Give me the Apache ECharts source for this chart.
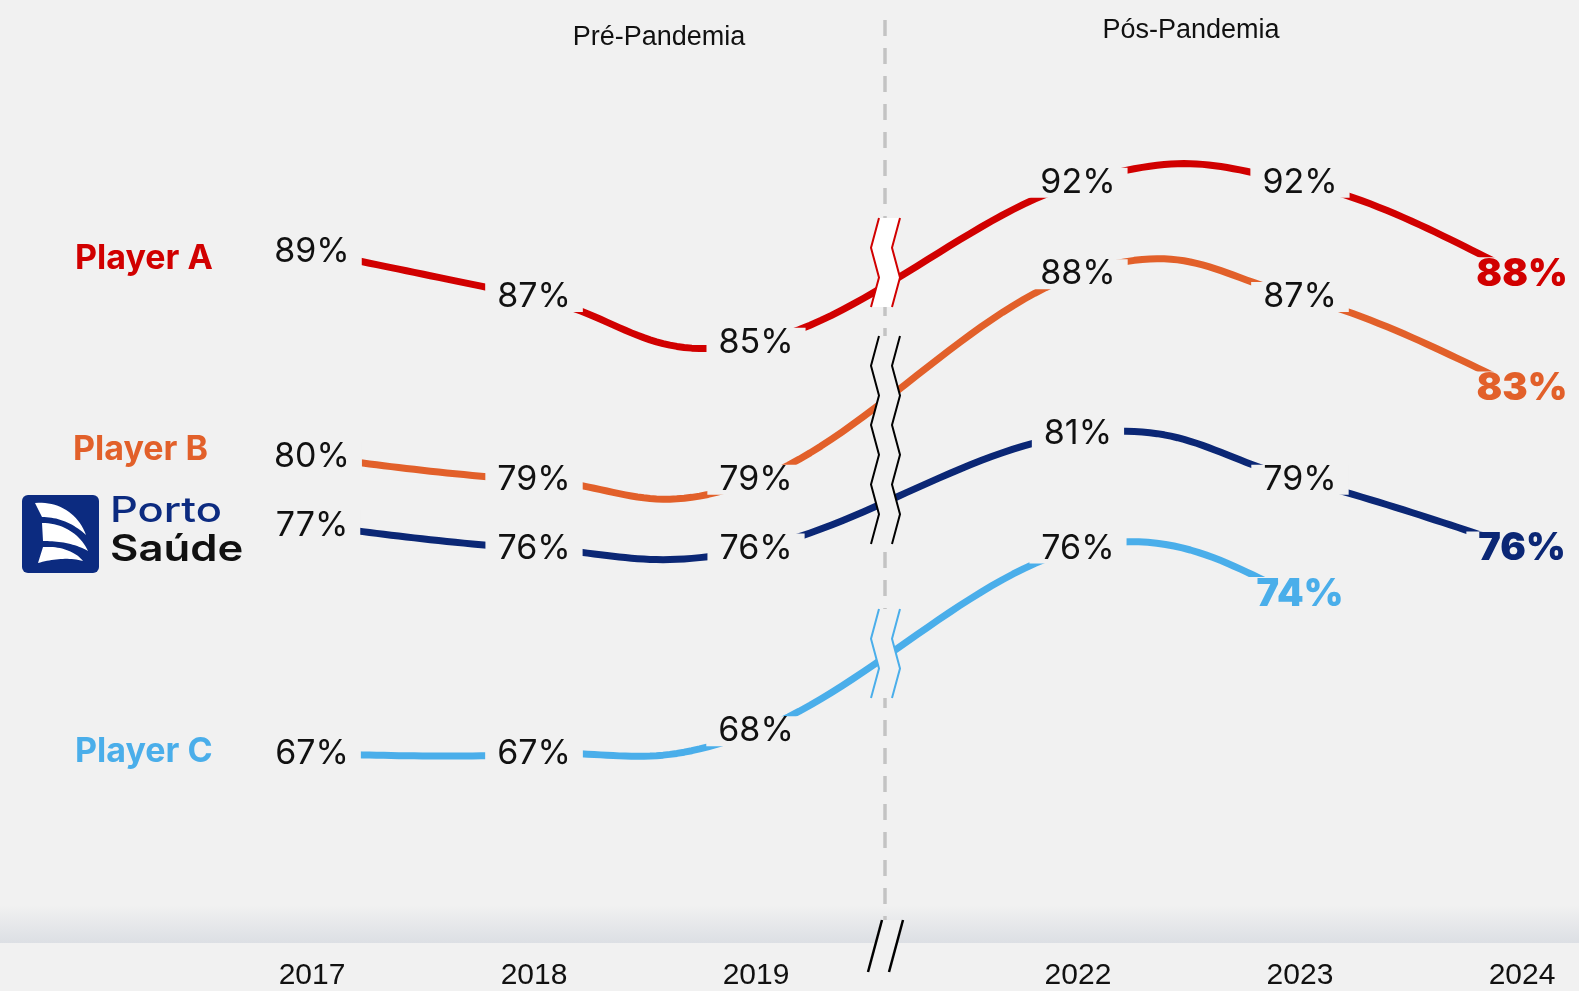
<!DOCTYPE html>
<html>
<head>
<meta charset="utf-8">
<script src="https://cdn.jsdelivr.net/npm/echarts@6/dist/echarts.min.js"></script>
<style>
  html, body { margin: 0; padding: 0; background: #f1f1f1; }
  #chart { width: 1579px; height: 991px; }
</style>
</head>
<body>
<div id="chart"></div>
<script>
// Satisfaction by year, before and after the pandemic break
const years = ['2017', '2018', '2019', '2022', '2023', '2024'];
const playerA = [89, 87, 85, 92, 92, 88];
const playerB = [80, 79, 79, 88, 87, 83];
const portoSaude = [77, 76, 76, 81, 79, 76];
const playerC = [67, 67, 68, 76, 74, null];

const seriesNames = ['Player A', 'Player B', 'Porto Saúde', 'Player C'];
const sectionTitles = ['Pré-Pandemia', 'Pós-Pandemia'];

// layout / style
const BG = '#f1f1f1';
const COLORS = { A: '#d10000', B: '#e2602a', N: '#0b2775', C: '#4aaeea' };
const BREAK_GAP = 0.45;          // extra room on the axis for the 2020–2021 break
const TENSION = 0.2;             // curve tension of the drawn lines
const slots = years.map((y, i) => (i < 3 ? i : i + BREAK_GAP));

function pairs(values) {
  const out = [];
  values.forEach((v, i) => { if (v != null) out.push([slots[i], v]); });
  return out;
}

function cubicPoint(p0, p1, p2, p3, t) {
  const u = 1 - t;
  const a = u * u * u, b = 3 * u * u * t, c = 3 * u * t * t, d = t * t * t;
  return [a * p0[0] + b * p1[0] + c * p2[0] + d * p3[0],
          a * p0[1] + b * p1[1] + c * p2[1] + d * p3[1]];
}

// cardinal spline through pixel points, sampled as a polyline
function spline(pts) {
  const out = [pts[0]];
  for (let i = 0; i < pts.length - 1; i++) {
    const p0 = pts[Math.max(i - 1, 0)], p1 = pts[i], p2 = pts[i + 1], p3 = pts[Math.min(i + 2, pts.length - 1)];
    const c1 = [p1[0] + (p2[0] - p0[0]) * TENSION, p1[1] + (p2[1] - p0[1]) * TENSION];
    const c2 = [p2[0] - (p3[0] - p1[0]) * TENSION, p2[1] - (p3[1] - p1[1]) * TENSION];
    for (let s = 1; s <= 30; s++) out.push(cubicPoint(p1, c1, c2, p2, s / 30));
  }
  return out;
}

function curveSeries(name, values, color) {
  const data = pairs(values);
  return {
    type: 'custom',
    name: name,
    coordinateSystem: 'cartesian2d',
    z: 1,
    silent: true,
    clip: false,
    encode: { x: 0, y: 1 },
    data: data,
    renderItem: (params, api) => {
      if (params.dataIndex !== 0) return null;
      const pts = data.map(d => api.coord(d));
      return {
        type: 'polyline',
        silent: true,
        shape: { points: spline(pts) },
        style: { stroke: color, lineWidth: 7, fill: 'none', lineJoin: 'round' }
      };
    }
  };
}

function labelSeries(name, values, color) {
  const data = [];
  let last = -1;
  values.forEach((v, i) => { if (v != null) last = i; });
  values.forEach((v, i) => {
    if (v == null) return;
    const item = { value: [slots[i], v] };
    if (i === last) {
      item.label = { color: color, fontWeight: 900, fontSize: 38, lineHeight: 34 };
    }
    data.push(item);
  });
  return {
    type: 'line',
    name: name,
    z: 2,
    clip: false,
    silent: true,
    symbol: 'circle',
    symbolSize: 1,
    itemStyle: { color: 'rgba(0,0,0,0)' },
    lineStyle: { opacity: 0, width: 0 },
    emphasis: { disabled: true },
    label: {
      show: true,
      position: 'inside',
      formatter: p => p.value[1] + '%',
      color: '#111',
      fontFamily: 'Inter',
      fontSize: 34,
      lineHeight: 30,
      backgroundColor: BG,
      padding: [0, 12]
    },
    data: data
  };
}

const chart = echarts.init(document.getElementById('chart'), null, { renderer: 'canvas' });

chart.setOption({
  backgroundColor: BG,
  animation: false,
  grid: { left: 312, right: 57, top: -1, bottom: 75 },
  xAxis: {
    type: 'value',
    min: 0,
    max: slots[slots.length - 1],
    axisLine: { show: false },
    axisTick: { show: false },
    splitLine: { show: false },
    axisLabel: {
      customValues: slots,
      formatter: v => {
        const i = slots.findIndex(s => Math.abs(s - v) < 1e-6);
        return i >= 0 ? years[i] : '';
      },
      margin: 47,
      color: '#111',
      fontFamily: 'Liberation Sans',
      fontSize: 30
    }
  },
  yAxis: { type: 'value', min: 60, max: 100, show: false, splitLine: { show: false } },
  series: [
    curveSeries(seriesNames[0], playerA, COLORS.A),
    curveSeries(seriesNames[1], playerB, COLORS.B),
    curveSeries(seriesNames[2], portoSaude, COLORS.N),
    curveSeries(seriesNames[3], playerC, COLORS.C),
    labelSeries(seriesNames[0], playerA, COLORS.A),
    labelSeries(seriesNames[1], playerB, COLORS.B),
    labelSeries(seriesNames[2], portoSaude, COLORS.N),
    labelSeries(seriesNames[3], playerC, COLORS.C)
  ]
});

// break position between 2019 and 2022
const x2019 = chart.convertToPixel({ xAxisIndex: 0 }, slots[2]);
const x2022 = chart.convertToPixel({ xAxisIndex: 0 }, slots[3]);
const bx = Math.round(x2019 + 0.4 * (x2022 - x2019));

// zig-zag break marks drawn across the lines
function zigzag(top, segments, color, fill) {
  const step = 29.7;
  const left = [], right = [];
  for (let k = 0; k <= segments; k++) {
    const y = top + k * step;
    left.push([bx + (k % 2 === 0 ? -6 : -14), y]);
    right.push([bx + (k % 2 === 0 ? 15 : 7), y]);
  }
  const poly = left.concat(right.slice().reverse());
  return [
    { type: 'polygon', z: 100, silent: true, shape: { points: poly }, style: { fill: fill } },
    { type: 'polyline', z: 101, silent: true, shape: { points: left }, style: { stroke: color, lineWidth: 2, fill: 'none' } },
    { type: 'polyline', z: 101, silent: true, shape: { points: right }, style: { stroke: color, lineWidth: 2, fill: 'none' } }
  ];
}

// sail shapes of the logo: start point, then two cubic segments (to the tip and back)
function sail(start, c1, c2, tip, c3, c4, end) {
  const pts = [start];
  for (let s = 1; s <= 20; s++) pts.push(cubicPoint(start, c1, c2, tip, s / 20));
  for (let s = 1; s <= 20; s++) pts.push(cubicPoint(tip, c3, c4, end, s / 20));
  return { type: 'polygon', shape: { points: pts }, style: { fill: '#ffffff' } };
}

const NAVY_LOGO = '#0c2b80';

const graphics = [
  // soft band above the year labels
  {
    type: 'rect', z: 0, silent: true,
    shape: { x: 0, y: 905, width: 1579, height: 38 },
    style: {
      fill: new echarts.graphic.LinearGradient(0, 0, 0, 1, [
        { offset: 0, color: 'rgba(241,241,241,1)' },
        { offset: 1, color: '#dcdfe4' }
      ])
    }
  },
  // dashed separator
  {
    type: 'line', z: 1, silent: true,
    shape: { x1: bx, y1: 20, x2: bx, y2: 934 },
    style: { stroke: '#c3c3c3', lineWidth: 3.5, lineDash: [16, 12] }
  },
  // section titles
  {
    type: 'text', z: 5, silent: true, x: 659, y: 38,
    style: { text: sectionTitles[0], fill: '#111', font: '27px "Liberation Sans", Arial, sans-serif', align: 'center', verticalAlign: 'middle' }
  },
  {
    type: 'text', z: 5, silent: true, x: 1191, y: 31,
    style: { text: sectionTitles[1], fill: '#111', font: '27px "Liberation Sans", Arial, sans-serif', align: 'center', verticalAlign: 'middle' }
  },
  // series names on the left
  {
    type: 'text', z: 5, silent: true, x: 75, y: 259,
    style: { text: seriesNames[0], fill: COLORS.A, font: '700 34px Inter, sans-serif', verticalAlign: 'middle' }
  },
  {
    type: 'text', z: 5, silent: true, x: 73, y: 450,
    style: { text: seriesNames[1], fill: COLORS.B, font: '700 34px Inter, sans-serif', verticalAlign: 'middle' }
  },
  {
    type: 'text', z: 5, silent: true, x: 75, y: 752,
    style: { text: seriesNames[3], fill: COLORS.C, font: '700 34px Inter, sans-serif', verticalAlign: 'middle' }
  },
  // Porto Saúde logo
  {
    type: 'group', x: 22, y: 495, z: 5, silent: true,
    children: [
      { type: 'rect', shape: { x: 0, y: 0, width: 77, height: 78, r: 6 }, style: { fill: NAVY_LOGO } },
      sail([13, 8], [36, 6], [56, 18], [64, 40], [51, 28], [36, 22], [20, 22]),
      sail([20, 28], [41, 28], [58, 39], [66, 56], [52, 48], [36, 46], [21, 46]),
      sail([21, 52], [38, 51], [53, 56], [61, 66], [46, 62], [31, 64], [16, 68]),
      {
        type: 'text', x: 88, y: 16, scaleX: 1.24,
        style: { text: 'Porto', fill: NAVY_LOGO, font: '500 35px Inter, sans-serif', verticalAlign: 'middle' }
      },
      {
        type: 'text', x: 88, y: 55, scaleX: 1.18,
        style: { text: 'Saúde', fill: '#111', font: '600 37px Inter, sans-serif', verticalAlign: 'middle' }
      }
    ]
  },
  // axis break slashes
  {
    type: 'polygon', z: 100, silent: true,
    shape: { points: [[bx - 3, 920], [bx + 18, 920], [bx + 4, 972], [bx - 17, 972]] },
    style: { fill: BG }
  },
  { type: 'line', z: 101, silent: true, shape: { x1: bx - 3, y1: 920, x2: bx - 17, y2: 972 }, style: { stroke: '#000', lineWidth: 2.5 } },
  { type: 'line', z: 101, silent: true, shape: { x1: bx + 18, y1: 920, x2: bx + 4, y2: 972 }, style: { stroke: '#000', lineWidth: 2.5 } }
]
  .concat(zigzag(218, 3, COLORS.A, '#ffffff'))
  .concat(zigzag(336, 7, '#000000', BG))
  .concat(zigzag(609, 3, COLORS.C, BG));

chart.setOption({ graphic: { elements: graphics } });
</script>
</body>
</html>
